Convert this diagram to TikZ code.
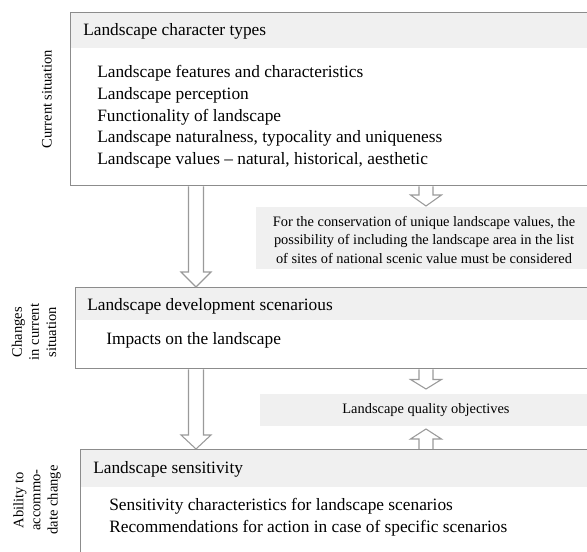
\documentclass[tikz,border=0pt]{standalone}
\usepackage{fontspec}
\setmainfont{Liberation Serif}
\usetikzlibrary{calc}
\definecolor{boxline}{HTML}{8C8C8C}
\definecolor{bandgray}{HTML}{F0F0F0}
\definecolor{arrowline}{HTML}{9A9A9A}
% #1 centre x (px), #2 start point, #3 tip point, #4 shaft half width, #5 head half width, #6 signed head length (px)
\newcommand\blockarrow[6]{%
  \draw[harrow] let \p1=(#2), \p2=(#3) in
    ({(#1-#4)*0.75pt},\y1) -- ({(#1-#4)*0.75pt},{\y2+#6*0.75pt})
    -- ({(#1-#5)*0.75pt},{\y2+#6*0.75pt}) -- ({#1*0.75pt},\y2)
    -- ({(#1+#5)*0.75pt},{\y2+#6*0.75pt}) -- ({(#1+#4)*0.75pt},{\y2+#6*0.75pt})
    -- ({(#1+#4)*0.75pt},\y1);}
\begin{document}
\begin{tikzpicture}[x=0.75pt,y=-0.75pt,
  box/.style={draw=boxline, line width=1pt, rectangle, anchor=north west, inner sep=0pt},
  band/.style={fill=bandgray, draw=none, rectangle, anchor=north west, inner sep=0pt, outer sep=0pt},
  big/.style={font=\fontsize{13}{16}\selectfont, anchor=base west, inner sep=0pt},
  small/.style={font=\fontsize{10.8}{13.7}\selectfont, anchor=base, inner sep=0pt},
  side/.style={font=\fontsize{10.9}{12.8}\selectfont, rotate=90, align=center, inner sep=0pt},
  harrow/.style={draw=arrowline, fill=white, line width=0.8pt, line join=miter}]
\useasboundingbox (0,0) rectangle (587,552);
\clip (0,0) rectangle (587,552);

% header bands and grey boxes
\node[band, minimum width=397.5pt, minimum height=27pt] (h1) at (70,12) {};
\node[band, minimum width=393.75pt, minimum height=24.75pt] (h2) at (75,287) {};
\node[band, minimum width=390pt, minimum height=28.5pt] (h3) at (80,449) {};
\node[band, minimum width=258pt, minimum height=46.5pt] (nb) at (256,207) {};
\node[band, minimum width=255pt, minimum height=24pt] (qb) at (260,394) {};

% main boxes
\node[box, minimum width=397.5pt, minimum height=129.75pt] (b1) at (70,12) {};
\node[box, minimum width=393.75pt, minimum height=60.75pt] (b2) at (75,287) {};
\node[box, minimum width=390pt, minimum height=90.75pt] (b3) at (80,449) {};

% box 1 texts
\node[big] (t1) at (83,36) {Landscape character types};
\node[big] (l1a) at (97,77.7) {Landscape features and characteristics};
\node[big] (l1b) at (97,99.5) {Landscape perception};
\node[big] (l1c) at (97,121.3) {Functionality of landscape};
\node[big] (l1d) at (97,143) {Landscape naturalness, typocality and uniqueness};
\node[big] (l1e) at (97,164.8) {Landscape values -- natural, historical, aesthetic};

% box 2 texts
\node[big] (t2) at (87,310.7) {Landscape development scenarious};
\node[big] (l2a) at (106,345) {Impacts on the landscape};

% box 3 texts
\node[big] (t3) at (93,473.3) {Landscape sensitivity};
\node[big] (l3a) at (109,510.7) {Sensitivity characteristics for landscape scenarios};
\node[big] (l3b) at (109,532.3) {Recommendations for action in case of specific scenarios};

% note texts
\node[small] (n1) at (424,226.5) {For the conservation of unique landscape values, the};
\node[small] (n2) at (424,245) {possibility of including the landscape area in the list};
\node[small] (n3) at (424,263.5) {of sites of national scenic value must be considered};
\node[small] (q1) at (426,414) {Landscape quality objectives};

% side labels
\node[side] (s1) at (47,99) {Current situation};
\node[side] (s2) at (34,332) {Changes\\in current\\situation};
\node[side] (s3) at (37,500) {Ability to\\accommo-\\date change};

% block arrows
\blockarrow{196}{b1.south}{b2.north}{7.5}{15}{15}
\blockarrow{196}{b2.south}{b3.north}{7.5}{15}{14}
\blockarrow{426}{b1.south}{$(nb.north)+(0,-1)$}{7}{15.5}{11}
\blockarrow{426}{b2.south}{$(qb.north)+(0,-5)$}{7}{15.5}{9.5}
\blockarrow{426}{b3.north}{$(qb.south)+(0,3)$}{7}{15.5}{-10}
\end{tikzpicture}
\end{document}
